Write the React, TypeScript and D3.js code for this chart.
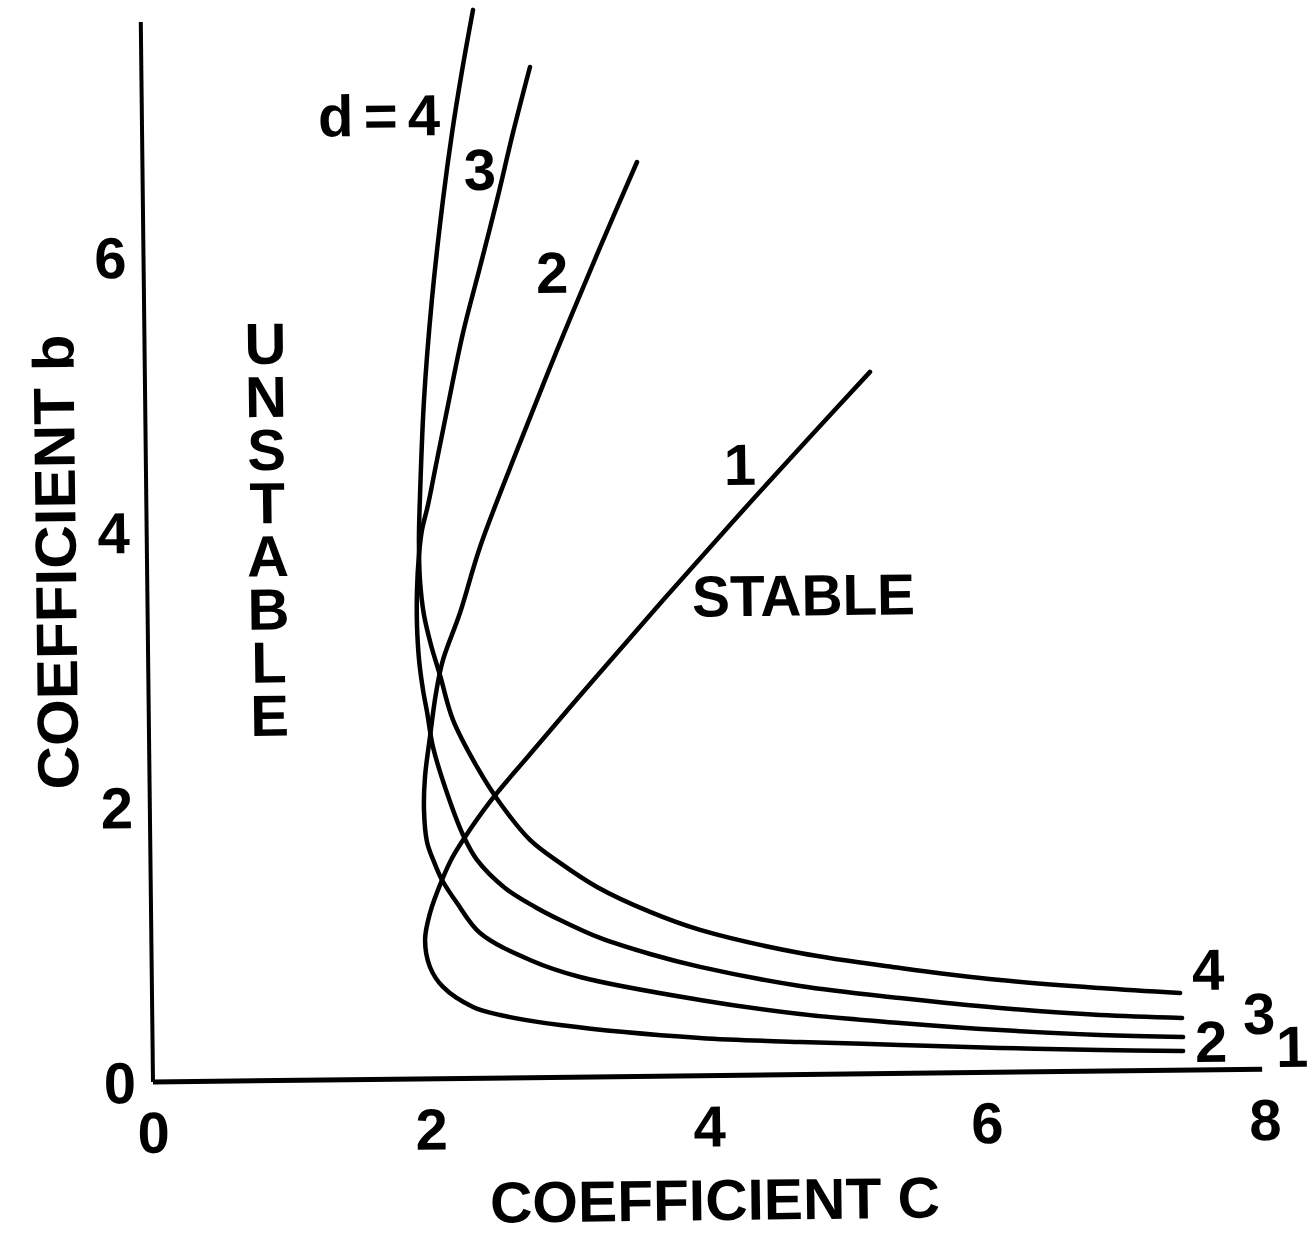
import React from 'react';
import * as d3 from 'd3';

const W = 1308;
const H = 1234;

// Stability boundaries, points read as [coefficient c, coefficient b]
const curveD1: [number, number][] = [
  [5.217, 5.104], [4.759, 4.614], [4.229, 4.039], [3.71, 3.463], [3.202, 2.887],
  [2.703, 2.311], [2.458, 2.023], [2.265, 1.756], [2.17, 1.604], [2.096, 1.445],
  [2.007, 1.206], [1.969, 1.01], [2.002, 0.813], [2.094, 0.667], [2.308, 0.519],
  [2.502, 0.458], [2.933, 0.38], [3.939, 0.274], [4.658, 0.237], [5.377, 0.207],
  [6.096, 0.177], [6.816, 0.153], [7.413, 0.139],
];
const curveD2: [number, number][] = [
  [3.558, 6.65], [3.277, 6.014], [2.968, 5.29], [2.672, 4.566], [2.397, 3.864],
  [2.247, 3.385], [2.121, 3.045], [2.068, 2.805], [2.021, 2.486], [1.982, 2.196],
  [1.972, 1.956], [1.991, 1.723], [2.04, 1.577], [2.096, 1.445], [2.202, 1.276],
  [2.365, 1.056], [2.722, 0.856], [3.081, 0.728], [3.942, 0.551], [4.66, 0.44],
  [5.379, 0.367], [6.098, 0.307], [6.817, 0.263], [7.414, 0.241],
];
const curveD3: [number, number][] = [
  [2.796, 7.35], [2.668, 6.872], [2.548, 6.386], [2.42, 5.9], [2.292, 5.421],
  [2.171, 4.863], [2.087, 4.464], [2.026, 4.173], [1.981, 3.992], [1.957, 3.81],
  [1.94, 3.556], [1.937, 3.302], [1.949, 3.047], [1.975, 2.828], [2.002, 2.668],
  [2.042, 2.413], [2.139, 2.077], [2.251, 1.77], [2.349, 1.588], [2.548, 1.382],
  [2.763, 1.241], [2.942, 1.144], [3.228, 1.01], [3.586, 0.889], [3.945, 0.791],
  [4.663, 0.644], [5.381, 0.548], [6.1, 0.467], [6.819, 0.408], [7.408, 0.38],
];
const curveD4: [number, number][] = [
  [2.391, 7.77], [2.308, 7.334], [2.23, 6.877], [2.159, 6.39], [2.071, 5.664],
  [2.006, 4.937], [1.969, 4.232], [1.958, 3.92], [1.962, 3.629], [1.988, 3.374],
  [2.036, 3.155], [2.098, 2.936], [2.188, 2.608], [2.357, 2.264], [2.519, 2.0],
  [2.732, 1.729], [2.946, 1.559], [3.21, 1.381], [3.59, 1.195], [3.948, 1.06],
  [4.665, 0.884], [5.384, 0.767], [6.102, 0.671], [6.821, 0.604], [7.396, 0.561],
];
const curves = [curveD1, curveD2, curveD3, curveD4];

const xTicks = [0, 2, 4, 6, 8];
const yTicks = [0, 2, 4, 6];

const curveLabels = [
  { text: 'd = 4', c: 1.706, b: 7.014, len: 122 },
  { text: '3', c: 2.428, b: 6.613 },
  { text: '2', c: 2.938, b: 5.858 },
  { text: '1', c: 4.274, b: 4.445 },
  { text: '4', c: 7.599, b: 0.734 },
  { text: '3', c: 7.963, b: 0.409 },
  { text: '2', c: 7.615, b: 0.21 },
  { text: '1', c: 8.197, b: 0.166 },
];

const stableLabel = { text: 'STABLE', c: 4.72, b: 3.49 };
const unstableText = 'UNSTABLE';
const unstableTop = 5.4;
const unstableBottom = 2.62;
const unstableC = 0.87;

const xTitle = 'COEFFICIENT C';
const yTitle = 'COEFFICIENT b';

export default function App() {
  const x = d3.scaleLinear().domain([0, 8]).range([0, 1112]);
  const y = d3.scaleLinear().domain([0, 8]).range([0, -1100]);
  const line = d3
    .line<[number, number]>()
    .x((d) => x(d[0]))
    .y((d) => y(d[1]))
    .curve(d3.curveCatmullRom.alpha(0.5));

  const fs = 58;
  const font = "'Liberation Sans', Arial, sans-serif";
  const off = 0.36 * fs;
  const pitch = (y(unstableBottom) - y(unstableTop)) / (unstableText.length - 1);
  const unstableMid = (y(unstableBottom) + y(unstableTop)) / 2;

  return (
    <svg
      width={W}
      height={H}
      style={{ position: 'absolute', left: 0, top: 0, display: 'block' }}
    >
      <rect width={W} height={H} fill="#fff" />
      <g
        transform="translate(153,1082) rotate(-0.66)"
        fontFamily={font}
        fontWeight="bold"
        fill="#000"
      >
        {/* axes */}
        <line x1={x(0)} y1={y(0)} x2={x(0)} y2={y(7.71)} stroke="#000" strokeWidth={4} />
        <line x1={x(0)} y1={y(0)} x2={x(7.98)} y2={y(0)} stroke="#000" strokeWidth={5} />

        {/* curves */}
        {curves.map((pts, i) => (
          <path
            key={i}
            d={line(pts) || ''}
            fill="none"
            stroke="#000"
            strokeWidth={4.5}
            strokeLinecap="round"
            strokeLinejoin="round"
          />
        ))}

        {/* tick labels */}
        {xTicks.map((t) => (
          <text key={'x' + t} x={x(t)} y={50 + off} textAnchor="middle" fontSize={fs}>
            {t}
          </text>
        ))}
        {yTicks.map((t) => (
          <text key={'y' + t} x={-33} y={y(t) + off} textAnchor="middle" fontSize={fs}>
            {t}
          </text>
        ))}

        {/* curve labels */}
        {curveLabels.map((l, i) => (
          <text
            key={'l' + i}
            x={x(l.c)}
            y={y(l.b) + off}
            textAnchor="middle"
            fontSize={fs}
            {...(l.len ? { textLength: l.len } : {})}
          >
            {l.text}
          </text>
        ))}

        {/* region labels */}
        <text
          x={x(stableLabel.c)}
          y={y(stableLabel.b) + off}
          textAnchor="middle"
          fontSize={fs}
          textLength={223}
          lengthAdjust="spacingAndGlyphs"
        >
          {stableLabel.text}
        </text>
        <text
          x={x(unstableC)}
          y={unstableMid}
          textAnchor="middle"
          fontSize={fs}
          textLength={pitch * unstableText.length}
          style={{ writingMode: 'vertical-rl', textOrientation: 'upright' } as any}
        >
          {unstableText}
        </text>

        {/* axis titles */}
        <text
          x={x(4.033)}
          y={y(-0.9) + off}
          textAnchor="middle"
          fontSize={fs}
          textLength={450}
          lengthAdjust="spacingAndGlyphs"
        >
          {xTitle}
        </text>
        <text
          transform={`translate(${x(-0.662)},${y(3.79)}) rotate(-90)`}
          x={0}
          y={off}
          textAnchor="middle"
          fontSize={fs}
          textLength={455}
          lengthAdjust="spacingAndGlyphs"
        >
          {yTitle}
        </text>
      </g>
    </svg>
  );
}
